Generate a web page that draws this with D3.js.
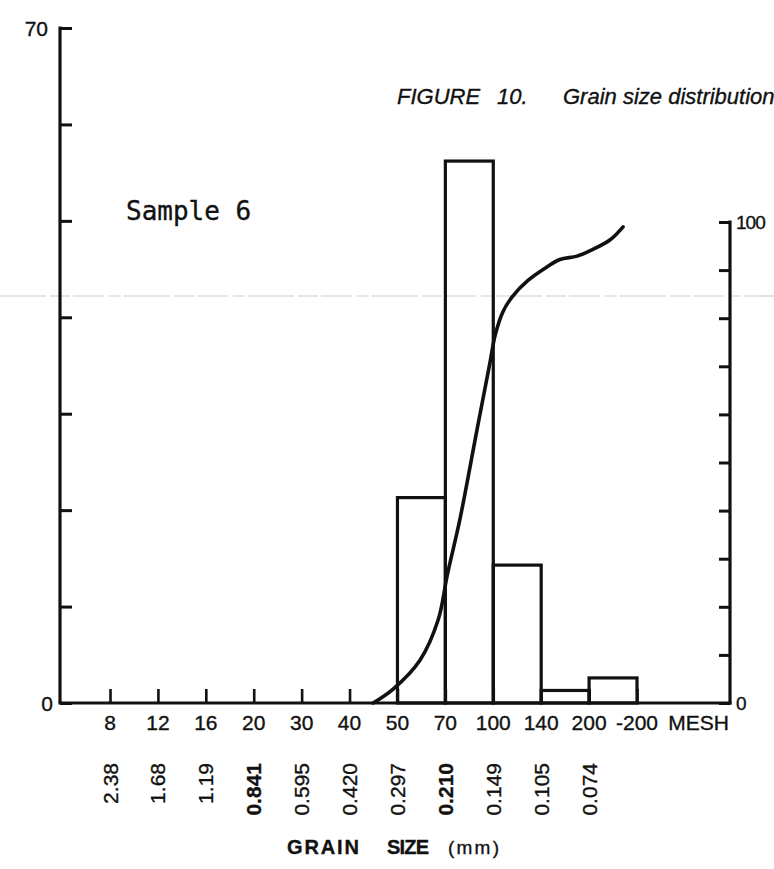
<!DOCTYPE html>
<html>
<head>
<meta charset="utf-8">
<script src="https://cdn.jsdelivr.net/npm/d3@7"></script>
<style>
  html, body { margin: 0; padding: 0; background: #fff; }
  svg { display: block; }
  text { fill: #111; stroke: #111; stroke-width: 0.35px; }
</style>
</head>
<body>
<script>
// Sieve sizes along the bottom (mesh numbers) and their openings in mm
const meshLabels = ["8", "12", "16", "20", "30", "40", "50", "70", "100", "140", "200", "-200"];
const mmLabels = ["2.38", "1.68", "1.19", "0.841", "0.595", "0.420", "0.297", "0.210", "0.149", "0.105", "0.074"];

// Weight percent retained between successive sieves (left axis)
const barFrom = [6, 7, 8, 9, 10];          // sieve position where the bar starts
const barTo = [7, 8, 9, 10, 11];           // sieve position where the bar ends
const barPct = [21.3, 56.2, 14.3, 1.3, 2.6];

// Cumulative weight percent curve (right axis), sieve position vs percent
const cumPos = [5.49, 5.91, 6.47, 6.85, 7.04, 7.31, 7.66, 7.93, 8.04, 8.20, 8.39, 8.73, 9.08, 9.39, 9.75, 10.08, 10.44, 10.71];
const cumPct = [0, 2.9, 8.9, 17.3, 26.6, 38.5, 56.8, 70.7, 76.5, 81.3, 84.4, 87.9, 90.4, 92.2, 92.9, 94.3, 96.3, 99.0];

const leftTicks = [0, 10, 20, 30, 40, 50, 60, 70];
const rightTicks = [0, 10, 20, 30, 40, 50, 60, 70, 80, 90, 100];

const W = 774, H = 869;
const svg = d3.select("body").append("svg").attr("width", W).attr("height", H);

const x0 = 60, x1 = 730, yBase = 703;
const x = d3.scaleLinear().domain([0, 11]).range([110, 637]);
const yL = d3.scaleLinear().domain([0, 70]).range([yBase, 28]);
const yR = d3.scaleLinear().domain([0, 100]).range([yBase, 222]);

const ink = "#111";
const numFont = "'Liberation Sans', Arial, sans-serif";

// faint fold line across the sheet
svg.append("line")
  .attr("x1", 0).attr("x2", W).attr("y1", 296).attr("y2", 296)
  .attr("stroke", "#cdcdcd").attr("stroke-width", 1.2)
  .attr("stroke-dasharray", "46,4,20,3,31,5,12,3");

// title
const title = svg.append("text")
  .attr("y", 104)
  .style("font-family", numFont)
  .style("font-style", "italic")
  .style("font-size", "22px");
title.append("tspan").attr("x", 397).text("FIGURE");
title.append("tspan").attr("x", 497).text("10.");
title.append("tspan").attr("x", 563).text("Grain size distribution");

// sample name
svg.append("text")
  .attr("x", 126).attr("y", 220)
  .style("font-family", "'DejaVu Sans Mono', 'Liberation Mono', monospace")
  .style("font-size", "26px")
  .text("Sample 6");

// left axis (percent retained)
const gL = svg.append("g").attr("transform", `translate(${x0},0)`)
  .call(d3.axisRight(yL).tickValues(leftTicks).tickSize(12).tickFormat(""));
gL.select(".domain").remove();
gL.selectAll(".tick line").attr("stroke", ink).attr("stroke-width", 3);
svg.append("line").attr("x1", x0).attr("x2", x0).attr("y1", yL(70) - 1.5).attr("y2", yBase)
  .attr("stroke", ink).attr("stroke-width", 3.2);

// right axis (cumulative percent)
const gR = svg.append("g").attr("transform", `translate(${x1},0)`)
  .call(d3.axisLeft(yR).tickValues(rightTicks).tickSize(11).tickFormat(""));
gR.select(".domain").remove();
gR.selectAll(".tick line").attr("stroke", ink).attr("stroke-width", 3);
svg.append("line").attr("x1", x1).attr("x2", x1).attr("y1", yR(100) - 1.5).attr("y2", yBase + 1.5)
  .attr("stroke", ink).attr("stroke-width", 3.2);

// axis end labels
[[70, yL(70)], [0, yL(0)]].forEach(([v, yy]) => {
  svg.append("text").attr("x", v === 0 ? 53 : 48).attr("y", yy).attr("dy", "0.36em")
    .attr("text-anchor", "end")
    .style("font-family", numFont).style("font-size", "21px").text(v);
});
[[100, yR(100)], [0, yR(0)]].forEach(([v, yy]) => {
  svg.append("text").attr("x", 736).attr("y", yy).attr("dy", "0.36em")
    .style("font-family", numFont).style("font-size", "19px")
    .style("letter-spacing", "-1px").text(v);
});

// bottom axis with sieve ticks
const gB = svg.append("g").attr("transform", `translate(0,${yBase})`)
  .call(d3.axisTop(x).tickValues(d3.range(meshLabels.length)).tickSize(14).tickFormat(""));
gB.select(".domain").remove();
gB.selectAll(".tick line").attr("stroke", ink).attr("stroke-width", 2.6);
svg.append("line").attr("x1", x0 - 1.5).attr("x2", x1 + 1.5).attr("y1", yBase).attr("y2", yBase)
  .attr("stroke", ink).attr("stroke-width", 3.2);

// bars
svg.append("g").selectAll("rect")
  .data(barPct)
  .join("rect")
  .attr("x", (d, i) => x(barFrom[i]))
  .attr("width", (d, i) => x(barTo[i]) - x(barFrom[i]))
  .attr("y", d => yL(d))
  .attr("height", d => yBase - yL(d))
  .attr("fill", "none")
  .attr("stroke", ink)
  .attr("stroke-width", 3.2);

// cumulative curve
const pts = cumPos.map((p, i) => [x(p), yR(cumPct[i])]);
svg.append("path")
  .attr("d", d3.line().curve(d3.curveCatmullRom.alpha(0.5))(pts))
  .attr("fill", "none")
  .attr("stroke", ink)
  .attr("stroke-width", 3.6)
  .attr("stroke-linecap", "round");

// mesh labels
svg.append("g").selectAll("text")
  .data(meshLabels)
  .join("text")
  .attr("x", (d, i) => x(i))
  .attr("y", 730)
  .attr("text-anchor", "middle")
  .style("font-family", numFont)
  .style("font-size", "21px")
  .text(d => d);
svg.append("text")
  .attr("x", 729).attr("y", 730)
  .attr("text-anchor", "end")
  .style("font-family", numFont)
  .style("font-size", "21px")
  .text("MESH");

// opening sizes in mm, written upward
const boldMm = new Set(["0.841", "0.210"]);
svg.append("g").selectAll("text")
  .data(mmLabels)
  .join("text")
  .attr("transform", (d, i) => `translate(${x(i)},763) rotate(-90)`)
  .attr("dy", "0.36em")
  .attr("text-anchor", "end")
  .style("font-family", numFont)
  .style("font-size", "21px")
  .style("font-weight", d => boldMm.has(d) ? "bold" : "normal")
  .text(d => d);

// axis title
const xt = svg.append("g")
  .style("font-family", numFont).style("font-size", "20px");
xt.append("text").attr("x", 287).attr("y", 854).style("font-weight", "bold")
  .attr("textLength", 72).attr("lengthAdjust", "spacing").text("GRAIN");
xt.append("text").attr("x", 387).attr("y", 854).style("font-weight", "bold")
  .attr("textLength", 42).attr("lengthAdjust", "spacing").text("SIZE");
xt.append("text").attr("x", 448).attr("y", 854).style("font-size", "19px")
  .attr("textLength", 51).attr("lengthAdjust", "spacing").text("(mm)");
</script>
</body>
</html>
